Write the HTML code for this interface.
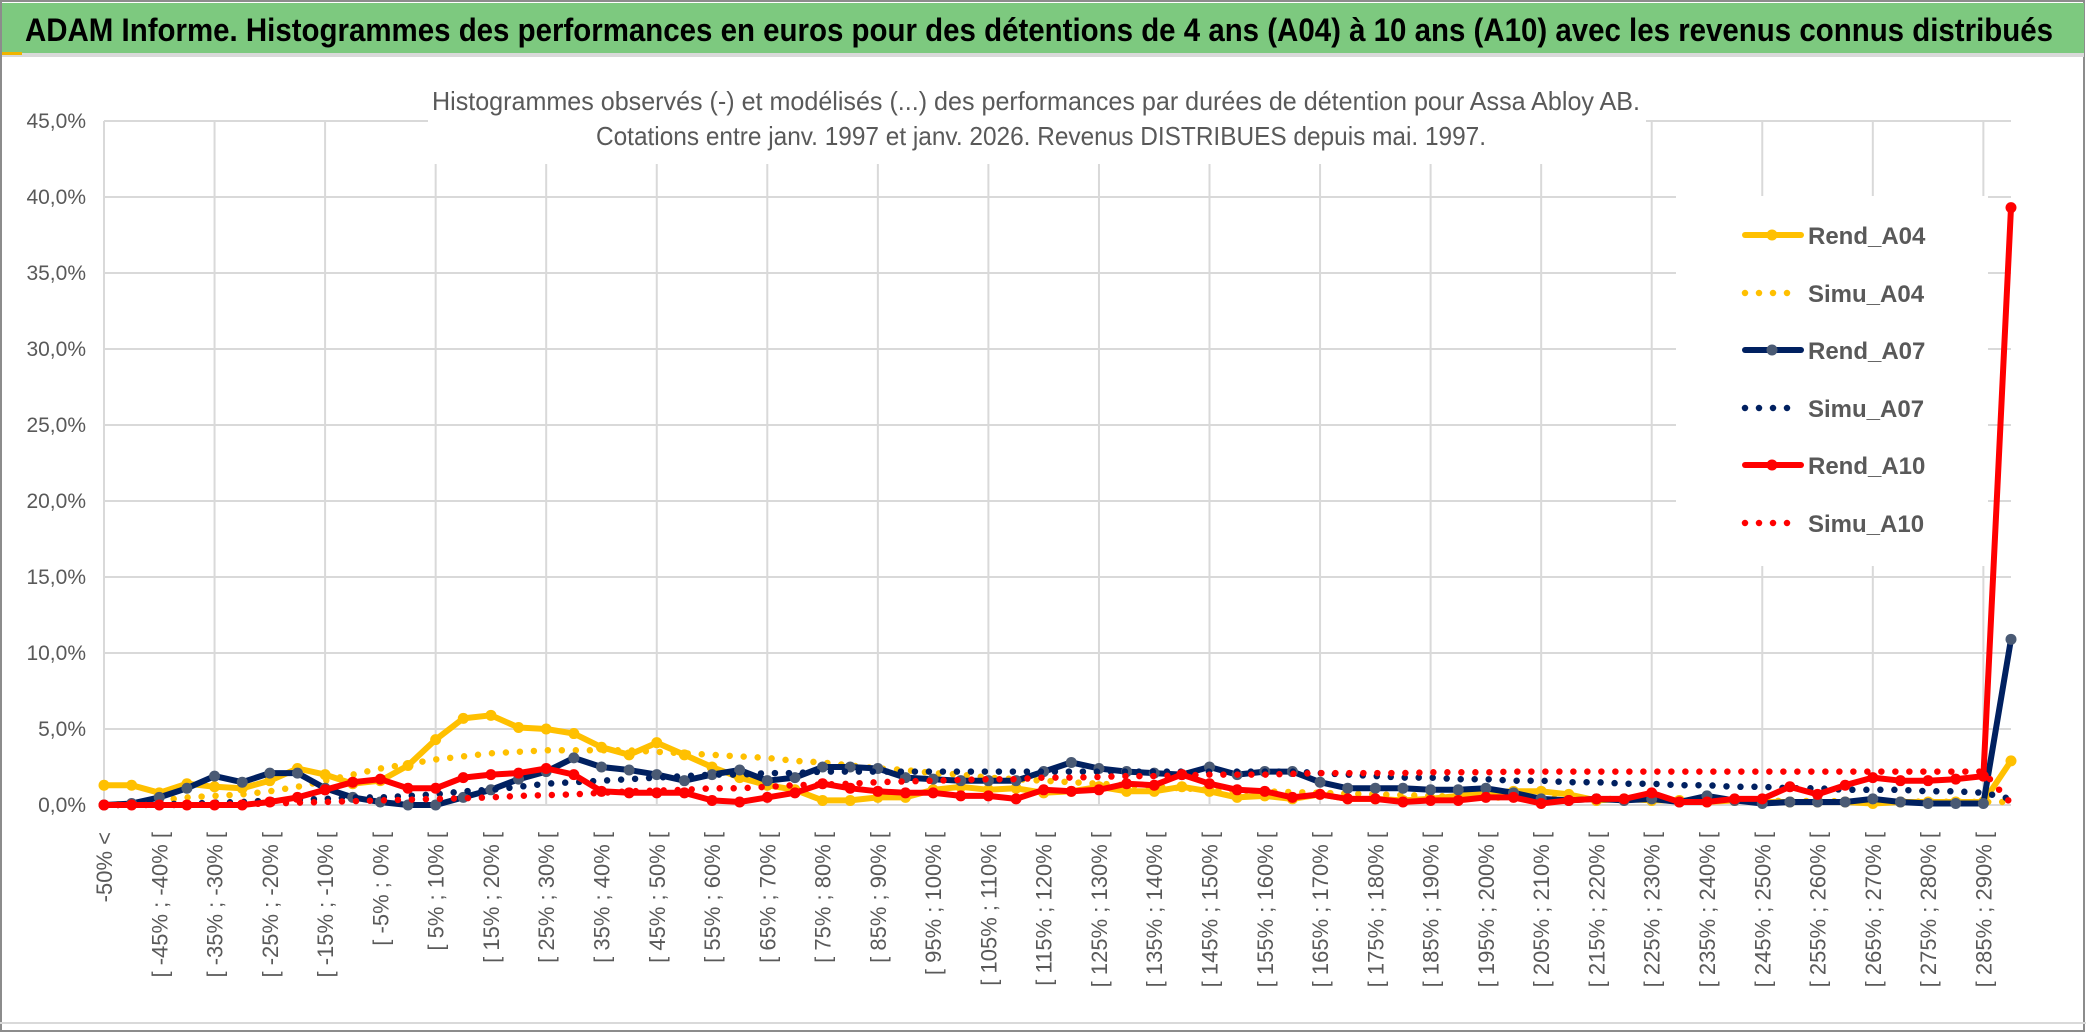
<!DOCTYPE html>
<html><head><meta charset="utf-8"><style>
html,body{margin:0;padding:0;background:#fff;}
svg{display:block;font-family:"Liberation Sans",sans-serif;}
</style></head><body>
<svg id="chart" width="2086" height="1033" viewBox="0 0 2086 1033" xmlns="http://www.w3.org/2000/svg">
<rect x="0" y="0" width="2086" height="1033" fill="#fff"/>
<rect x="1" y="1" width="2083" height="1030" fill="none" stroke="#8c8c8c" stroke-width="2"/>
<rect x="2" y="3" width="2082" height="50" fill="#7DC97F"/>
<rect x="2" y="53" width="2082" height="4" fill="#d9d9d9"/>
<rect x="2" y="52" width="20" height="3" fill="#f0b400"/>
<text x="25" y="41" font-size="32" font-weight="bold" fill="#000" textLength="2028" lengthAdjust="spacingAndGlyphs">ADAM Informe. Histogrammes des performances en euros pour des détentions de 4 ans (A04) à 10 ans (A10) avec les revenus connus distribués</text>
<rect x="0" y="1022" width="2086" height="2" fill="#d9d9d9"/>
<g id="grid"></g>
<rect x="428" y="60" width="1218" height="104" fill="#fff"/>
<text x="432" y="110" font-size="26" fill="#595959" textLength="1208" lengthAdjust="spacingAndGlyphs">Histogrammes observés (-) et modélisés (...) des performances par durées de détention pour Assa Abloy AB.</text>
<text x="596" y="145" font-size="26" fill="#595959" textLength="890" lengthAdjust="spacingAndGlyphs">Cotations entre janv. 1997 et janv. 2026. Revenus DISTRIBUES depuis mai. 1997.</text>
<g id="series"></g>
<g id="legend"></g>
</svg>
<script>
const categories = ["-50% <"];
for (let a = -50; a < 295; a += 5) categories.push("[ " + a + "% ; " + (a + 5) + "% [");
const yTicks = [0,5,10,15,20,25,30,35,40,45];
const rendA04 = [1.3,1.3,0.8,1.4,1.2,1.1,1.6,2.4,2.0,1.4,1.6,2.6,4.3,5.7,5.9,5.1,5.0,4.7,3.8,3.3,4.1,3.3,2.5,1.8,1.3,1.0,0.3,0.3,0.5,0.5,1.0,1.2,1.0,1.1,0.8,0.9,1.2,0.9,0.9,1.2,0.9,0.5,0.6,0.4,0.7,0.4,0.4,0.3,0.4,0.6,0.8,0.9,0.9,0.7,0.3,0.4,0.3,0.3,0.2,0.3,0.2,0.2,0.2,0.2,0.1,0.2,0.2,0.2,0.2,2.9];
const simuA04 = [0,0.1,0.3,0.5,0.6,0.7,0.9,1.2,1.6,2.0,2.4,2.7,3.0,3.2,3.4,3.5,3.6,3.6,3.6,3.6,3.5,3.4,3.3,3.2,3.1,2.9,2.8,2.6,2.4,2.3,2.1,2.0,1.8,1.7,1.6,1.5,1.4,1.3,1.2,1.1,1.0,0.95,0.9,0.85,0.8,0.75,0.7,0.65,0.6,0.55,0.5,0.48,0.45,0.42,0.4,0.38,0.36,0.34,0.32,0.3,0.28,0.27,0.26,0.25,0.24,0.23,0.22,0.21,0.2,0.2];
const rendA07 = [0,0.1,0.5,1.1,1.9,1.5,2.1,2.1,1.1,0.5,0.2,0,0,0.5,1.0,1.7,2.2,3.1,2.5,2.3,2.0,1.6,2.0,2.3,1.6,1.8,2.5,2.5,2.4,1.8,1.7,1.6,1.6,1.6,2.2,2.8,2.4,2.2,2.1,2.0,2.5,2.0,2.2,2.2,1.5,1.1,1.1,1.1,1.0,1.0,1.1,0.8,0.4,0.3,0.4,0.3,0.4,0.2,0.6,0.3,0.1,0.2,0.2,0.2,0.4,0.2,0.1,0.1,0.1,10.9];
const simuA07 = [0,0,0.05,0.1,0.15,0.2,0.3,0.35,0.4,0.5,0.5,0.6,0.7,0.9,1.0,1.2,1.4,1.5,1.6,1.7,1.8,1.9,2.0,2.0,2.1,2.1,2.2,2.2,2.2,2.2,2.2,2.2,2.2,2.2,2.2,2.2,2.2,2.2,2.2,2.2,2.2,2.2,2.2,2.2,2.1,2.0,1.9,1.8,1.8,1.7,1.7,1.6,1.6,1.5,1.5,1.4,1.4,1.3,1.3,1.2,1.2,1.1,1.1,1.0,1.0,1.0,0.9,0.9,0.8,0.4];
const rendA10 = [0,0,0,0,0,0,0.2,0.5,1.0,1.5,1.7,1.1,1.1,1.8,2.0,2.1,2.4,2.0,0.9,0.8,0.8,0.8,0.3,0.2,0.5,0.8,1.4,1.1,0.9,0.8,0.8,0.6,0.6,0.4,1.0,0.9,1.0,1.4,1.3,2.0,1.4,1.0,0.9,0.5,0.7,0.4,0.4,0.2,0.3,0.3,0.5,0.5,0.1,0.3,0.4,0.4,0.8,0.2,0.2,0.4,0.4,1.2,0.7,1.3,1.8,1.6,1.6,1.7,1.9,39.3];
const simuA10 = [0,0,0,0,0.05,0.05,0.1,0.15,0.2,0.25,0.3,0.35,0.4,0.45,0.5,0.6,0.65,0.7,0.8,0.9,0.95,1.0,1.1,1.1,1.2,1.3,1.35,1.4,1.5,1.55,1.6,1.65,1.7,1.7,1.8,1.8,1.85,1.9,1.9,1.95,2.0,2.0,2.0,2.05,2.1,2.1,2.1,2.1,2.15,2.15,2.15,2.2,2.2,2.2,2.2,2.2,2.2,2.2,2.2,2.2,2.2,2.2,2.2,2.2,2.2,2.2,2.2,2.2,2.2,0.1];
const seriesNames = ["Rend_A04","Simu_A04","Rend_A07","Simu_A07","Rend_A10","Simu_A10"];

const NS = "http://www.w3.org/2000/svg";
const X0 = 104, X1 = 2011, Y0 = 805, YTOP = 121, YMAX = 45;
function xScale(i){ return X0 + (X1 - X0) * i / (categories.length - 1); }
function yScale(v){ return Y0 - (Y0 - YTOP) * v / YMAX; }
function mk(tag, attrs, parent){ const e = document.createElementNS(NS, tag); for (const k in attrs) e.setAttribute(k, attrs[k]); parent.appendChild(e); return e; }

const grid = document.getElementById("grid");
yTicks.forEach(t => {
  const y = yScale(t);
  const l = mk("line", {x1: X0, x2: X1, y1: y, y2: y, stroke: "#d9d9d9", "stroke-width": 2}, grid);
  
  
  const tx = mk("text", {x: 86, y: y + 7, "text-anchor": "end", "font-size": 21, fill: "#595959"}, grid);
  
  
  tx.textContent = t.toFixed(1).replace(".", ",") + "%";
});
for (let i = 0; i < categories.length; i += 4) {
  const x = xScale(i);
  const l = mk("line", {x1: x, x2: x, y1: YTOP, y2: Y0, stroke: "#d9d9d9", "stroke-width": 2}, grid);
  
  
}
for (let i = 0; i < categories.length; i += 2) {
  const x = xScale(i);
  const tx = mk("text", {x: 0, y: 0, "text-anchor": "end", "font-size": 22, fill: "#595959", transform: "translate(" + (x + 8) + ",832) rotate(-90)"}, grid);
  
  
  tx.textContent = categories[i];
}

const sg = document.getElementById("series");
function pts(arr){ return arr.map((v, i) => xScale(i).toFixed(1) + "," + yScale(v).toFixed(1)).join(" "); }
function solid(arr, color, mcol, name){
  const g = mk("g", {}, sg);
  
  
  mk("polyline", {points: pts(arr), fill: "none", stroke: color, "stroke-width": 6, "stroke-linejoin": "round", "stroke-linecap": "round"}, g);
  arr.forEach((v, i) => {
    const c = mk("circle", {cx: xScale(i), cy: yScale(v), r: 5.5, fill: mcol}, g);
    
    
  });
}
function dotted(arr, color, name){
  const p = mk("polyline", {points: pts(arr), fill: "none", stroke: color, "stroke-width": 6.5, "stroke-dasharray": "0 14", "stroke-linecap": "round"}, sg);
  
  
}
solid(rendA04, "#FFC000", "#FFC000", "series-rend-a04");
dotted(simuA04, "#FFC000", "series-simu-a04");
solid(rendA07, "#002060", "#4A5A74", "series-rend-a07");
dotted(simuA07, "#002060", "series-simu-a07");
solid(rendA10, "#FF0000", "#FF0000", "series-rend-a10");
dotted(simuA10, "#FF0000", "series-simu-a10");

const lg = document.getElementById("legend");
mk("rect", {x: 1676, y: 196, width: 312, height: 370, fill: "#fff"}, lg);
const lcol = ["#FFC000","#FFC000","#002060","#002060","#FF0000","#FF0000"];
const mcols = ["#FFC000",null,"#4A5A74",null,"#FF0000",null];
const rowY = [235,293,350,408,465,523];
seriesNames.forEach((n, k) => {
  const g = mk("g", {}, lg);
  
  
  const y = rowY[k];
  if (mcols[k]) {
    mk("line", {x1: 1745, x2: 1801, y1: y, y2: y, stroke: lcol[k], "stroke-width": 6, "stroke-linecap": "round"}, g);
    mk("circle", {cx: 1772, cy: y, r: 5.5, fill: mcols[k]}, g);
  } else {
    mk("line", {x1: 1745, x2: 1801, y1: y, y2: y, stroke: lcol[k], "stroke-width": 6.5, "stroke-dasharray": "0 14", "stroke-linecap": "round"}, g);
  }
  const t = mk("text", {x: 1808, y: y + 9, "font-size": 24, "font-weight": "bold", fill: "#595959"}, g);
  t.textContent = n;
});
</script>
</body></html>
